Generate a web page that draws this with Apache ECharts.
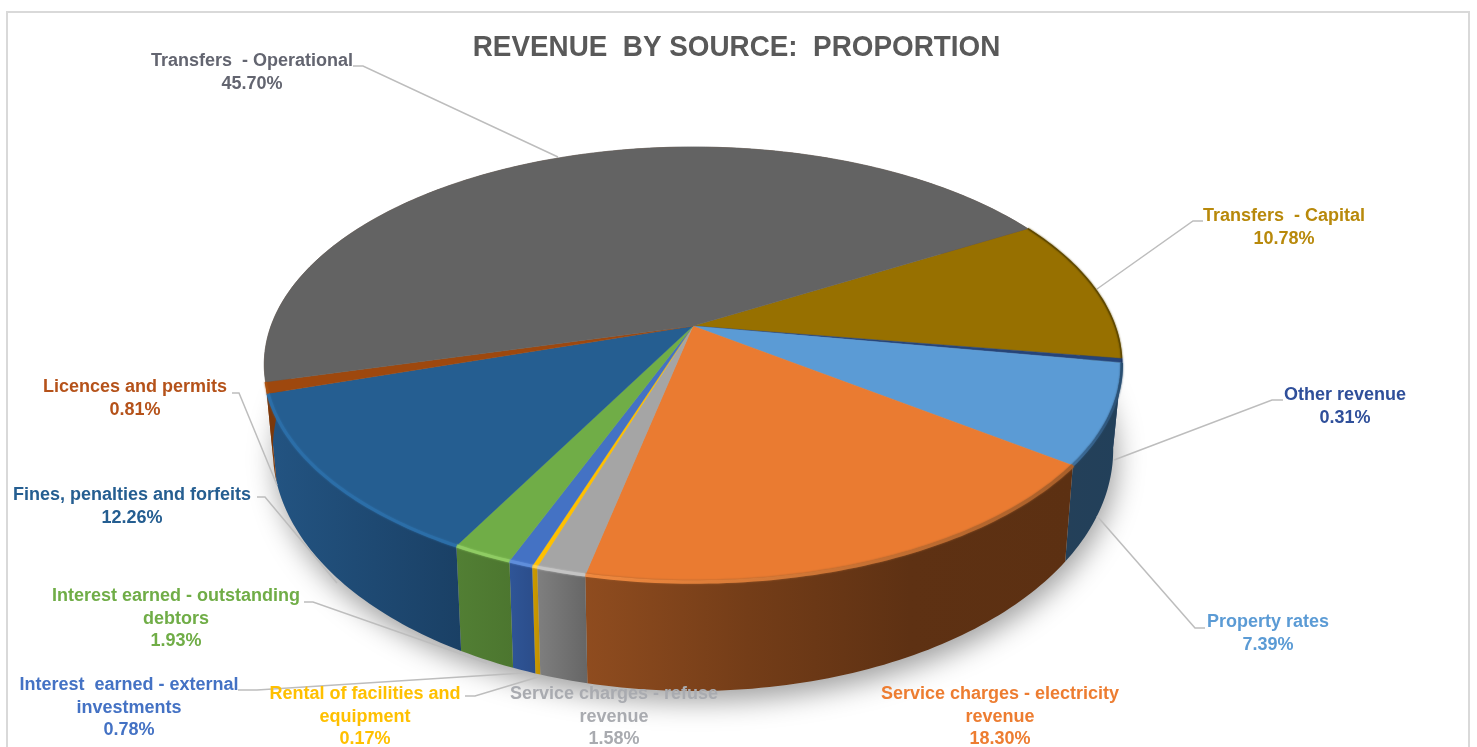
<!DOCTYPE html>
<html><head><meta charset="utf-8">
<style>html,body{margin:0;padding:0;background:#fff}#c{width:1477px;height:747px}</style>
<script src="https://cdn.jsdelivr.net/npm/echarts@6/dist/echarts.min.js"></script>
</head><body><div id="c"></div>
<script>
// ---- data (clockwise, starting at the Transfers - Capital slice)
const categories = ['Transfers  - Capital','Other revenue','Property rates','Service charges - electricity\nrevenue','Service charges - refuse\nrevenue','Rental of facilities and\nequipment','Interest  earned - external\ninvestments','Interest earned - outstanding\ndebtors','Fines, penalties and forfeits','Licences and permits','Transfers  - Operational'];
const shares = [10.78,0.31,7.39,18.30,1.58,0.17,0.78,1.93,12.26,0.81,45.70];
const titleText = 'REVENUE  BY SOURCE:  PROPORTION';

// ---- style
const topColors  = ['#977000','#264478','#5B9BD5','#EA7B31','#A5A5A5','#FFC000','#4472C4','#70AD47','#255E91','#9E480E','#636363'];
const sideColors = [['#5f4700','#5f4700'],['#1f3864','#1f3864'],['#244059','#22405a'],['#8f4c1f','#743d18','#5e3113','#5c3012'],['#7f7f7f','#666666'],['#cc9a00','#c09000'],['#2f5597','#2b4d8a'],['#527f34','#4c762f'],['#235482','#1a4065'],['#9E480E','#7a380b'],['#7a380b','#7a380b']];
const rimColors  = [['#5f4800','#5f4800'],['#1f3864','#1f3864'],['#3f6f9c','#2a4f72'],['#f0893f','#a85f2a'],['#c4c4c4','#c4c4c4'],['#ffd24d','#ffd24d'],['#5f8edb','#5f8edb'],['#8fcc63','#8fcc63'],['#2b6ea8','#2b6ea8'],['#a9500f','#a9500f'],['#636363','#636363']];
const rimWidths  = [1.5,1.5,2.5,3.5,3,3,3,3,3,2,0.5];
const labelColors= ['#B8890B','#2F4F9A','#5B9BD5','#ED7D31','#A9ABB0','#FFC000','#4472C4','#70AD47','#255E91','#B5521A','#636570'];
// label layout: centre x, centre y of the whole block
const labelCentres = [[1284,227.7],[1345,406.7],[1268,633.7],[1000,716.7],[614,716.7],[365,716.7],[129,707.7],[176,618.7],[132,506.7],[135,398.7],[252,72.7]];
const leaderPaths = [[[1203,221],[1193,221],[1097,289]],[[1283,400],[1272,400],[1114,460]],[[1205,628],[1195,628],[1097,516]],null,null,[[465,696],[475,696],[538,677]],[[238,690],[257,690],[523,673]],[[304,602],[313,602],[487,663]],[[257,497],[265,497],[337,583]],[[232,393],[239,393],[277,485]],[[353,66],[363,66],[558,157]]];

// ---- projection of the tilted disc
const cx=693, cy=326, A=422, B=210.7, P=0.177, START=59.8;
const shrink=0.98, ystretch=1.11, ydrop=45;
function topPt(deg){const t=deg*Math.PI/180,u=Math.sin(t),v=-Math.cos(t),w=1-P*v;return [cx+A*u/w,cy+B*v/w];}
function botPt(deg){const p=topPt(deg);return [cx+shrink*(p[0]-cx),ystretch*p[1]+ydrop];}
const toDeg=echarts.number.linearMap;
const cum=[];shares.reduce((s,v,i)=>{cum[i]=s;return s+v;},0);
function range(i){const total=shares.reduce((a,b)=>a+b,0);
  return [START+toDeg(cum[i],[0,total],[0,360]),START+toDeg(cum[i]+shares[i],[0,total],[0,360])];}
function arc(f,a,b){const n=Math.max(2,Math.ceil(Math.abs(b-a)));const r=[];for(let k=0;k<=n;k++)r.push(f(a+(b-a)*k/n));return r;}
function grad(pts,c){const xs=pts.map(p=>p[0]);const x1=Math.min(...xs),x2=Math.max(...xs);
  return new echarts.graphic.LinearGradient(x1,0,Math.max(x2,x1+1),0,c.map((col,k)=>({offset:k/(c.length-1),color:col})),true);}
const rows=shares.map((v,i)=>[i,v]);

const custom=(z,renderItem)=>({type:'custom',coordinateSystem:'none',z,silent:true,animation:false,data:rows,renderItem,clip:false});
const option={
  animation:false,backgroundColor:'#fff',
  graphic:[
    {type:'rect',z:0,shape:{x:7,y:12,width:1462,height:760},style:{fill:'#fff',stroke:'#d9d9d9',lineWidth:2}},
    {type:'text',z:10,x:736.5,y:48,scaleX:0.928,style:{text:titleText,x:0,y:0,align:'center',verticalAlign:'middle',fontFamily:'Liberation Sans',fontWeight:'bold',fontSize:30,fill:'#595959'}}
  ],
  series:[
    custom(1,(p,api)=>{ // ground shadow
      const i=api.value(0); if(i!==0) return null;
      return {type:'polygon',shape:{points:arc(botPt,0,360)},style:{fill:'#bbb',shadowColor:'rgba(0,0,0,0.38)',shadowBlur:28,shadowOffsetX:3,shadowOffsetY:10}};
    }),
    custom(2,(p,api)=>{ // walls
      const i=api.value(0),[a,b]=range(i);
      const pts=arc(topPt,a,b).concat(arc(botPt,a,b).reverse());
      return {type:'polygon',shape:{points:pts},style:{fill:grad(pts,sideColors[i]),stroke:null}};
    }),
    custom(3,(p,api)=>{ // leaders
      const i=api.value(0); const l=leaderPaths[i]; if(!l) return null;
      return {type:'polyline',shape:{points:l},style:{fill:null,stroke:'#bdbdbd',lineWidth:1.5}};
    }),
    custom(4,(p,api)=>{ // faces
      const i=api.value(0),[a,b]=range(i);
      const edge=arc(topPt,a,b);
      return {type:'group',children:[
        {type:'polygon',shape:{points:[[cx,cy]].concat(edge)},style:{fill:topColors[i],stroke:topColors[i],lineWidth:0.4}},
        {type:'polyline',z2:5,shape:{points:edge},style:{fill:null,stroke:grad(edge,rimColors[i]),lineWidth:rimWidths[i],shadowColor:rimColors[i][1],shadowBlur:i===10?0:2}}
      ]};
    }),
    custom(5,(p,api)=>{ // labels
      const i=api.value(0),c=labelCentres[i];
      return {type:'text',style:{text:categories[i]+'\n'+api.value(1).toFixed(2)+'%',x:c[0],y:c[1],align:'center',verticalAlign:'middle',lineHeight:22.8,fill:labelColors[i],fontFamily:'Liberation Sans',fontWeight:'bold',fontSize:18}};
    })
  ]
};
echarts.init(document.getElementById('c'),null,{renderer:'canvas'}).setOption(option);
</script></body></html>
